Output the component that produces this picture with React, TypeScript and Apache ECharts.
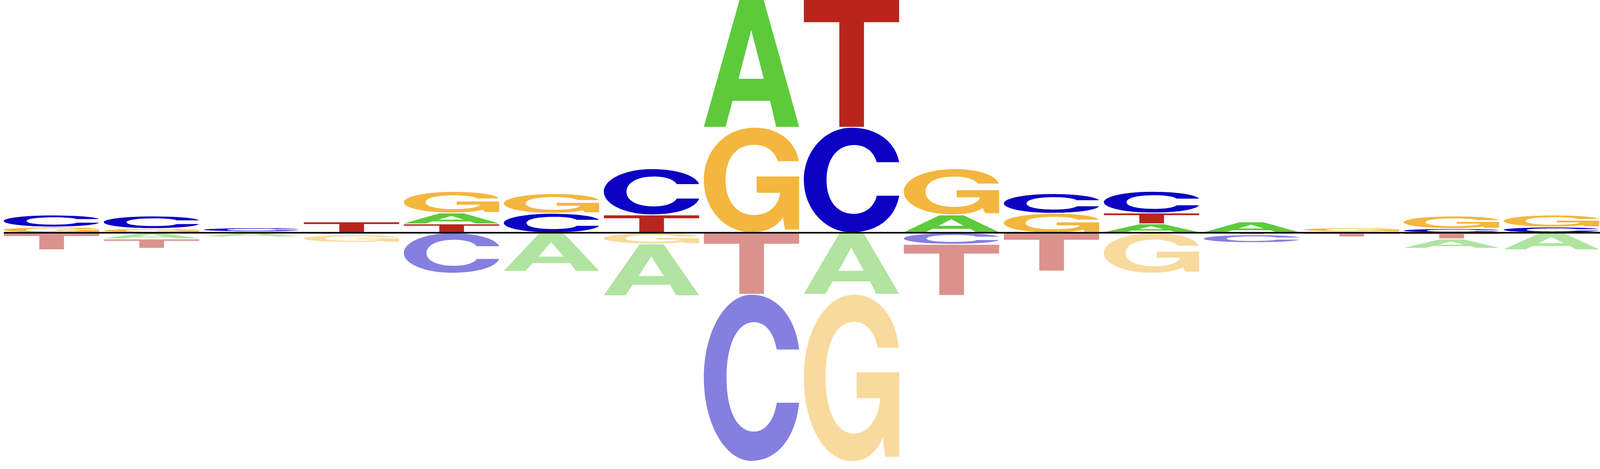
import React, { useEffect, useRef } from 'react';
import * as echarts from 'echarts';

// sequence positions (16 columns)
const positions = ['1', '2', '3', '4', '5', '6', '7', '8', '9', '10', '11', '12', '13', '14', '15', '16'];

// letter heights above the baseline (bits)
const posA = [0, 0, 0, 0, 0.094, 0, 0, 1.099, 0, 0.154, 0, 0.077, 0.094, 0, 0, 0];
const posC = [0.104, 0.108, 0.034, 0, 0, 0.167, 0.397, 0, 0.907, 0, 0.17, 0.186, 0, 0.009, 0.036, 0.049];
const posG = [0.049, 0.036, 0.009, 0, 0.185, 0.17, 0, 0.907, 0, 0.397, 0.167, 0, 0, 0.034, 0.108, 0.104];
const posT = [0, 0, 0, 0.094, 0.076, 0, 0.154, 0, 1.099, 0, 0, 0.093, 0, 0, 0, 0];

// letter heights below the baseline (bits)
const negA = [0, 0.053, 0.035, 0.017, 0, 0.332, 0.446, 0, 0.529, 0, 0, 0, 0, 0, 0.081, 0.147];
const negC = [0, 0, 0, 0, 0.348, 0, 0, 1.437, 0, 0.099, 0, 0, 0.068, 0, 0, 0];
const negG = [0, 0, 0, 0.066, 0, 0, 0.096, 0, 1.439, 0, 0, 0.348, 0, 0, 0, 0];
const negT = [0.147, 0.081, 0, 0, 0, 0, 0, 0.529, 0, 0.44, 0.329, 0, 0.017, 0.036, 0.053, 0];

const LETTERS = ['A', 'C', 'G', 'T'];
const POS: Record<string, number[]> = { A: posA, C: posC, G: posG, T: posT };
const NEG: Record<string, number[]> = { A: negA, C: negC, G: negG, T: negT };

const COLORS_POS: Record<string, string> = { A: '#5DCA3C', C: '#0C00C3', G: '#F3B63F', T: '#B8251D' };
const COLORS_NEG: Record<string, string> = { A: '#B0E4A0', C: '#857FE0', G: '#F8DA9F', T: '#DB928D' };

// glyph outlines in a 100x100 box
const GLYPHS: Record<string, string> = {
    A: 'M37.4 0 L62.8 0 L100 100 L75.9 100 L69.5 79.5 L30.1 79.5 L22.8 100 L0 100 Z M49.7 23.6 L36.4 62.1 L62.9 62.1 Z',
    C: 'M50 0 C76 0 96 13 100 33 L76.5 33 C73 22 64 16.5 52.6 16.5 C35 16.5 23.8 30 23.8 50 C23.8 70 35 82.4 52.6 82.4 C65 82.4 74 75 76.5 65 L100 65 C96 87 76 100 50 100 C22.4 100 0 77.6 0 50 C0 22.4 22.4 0 50 0 Z',
    G: 'M53 0 C77 0 96 12 99.6 31.9 L77.6 31.9 C74 22 65 16.3 53 16.3 C33 16.3 22.8 30 22.8 50 C22.8 70 34 83.5 53 83.5 C68 83.5 79 74 80 62.2 L55.4 62.2 L55.4 46.6 L100 46.6 L100 97.4 L85.2 97.4 L82.9 85.9 C76 95 66 100 50 100 C22 100 0 78 0 50 C0 22 22.6 0 53 0 Z',
    T: 'M0 0 L100 0 L100 17.5 L63.1 17.5 L63.1 100 L37.2 100 L37.2 17.5 L0 17.5 Z',
};

const GLYPH_WIDTH = 0.953;

export default function SequenceLogo() {
    const chartRef = useRef<HTMLDivElement>(null);

    useEffect(() => {
        if (!chartRef.current) return;
        document.body.style.margin = '0';

        const myChart = echarts.init(chartRef.current, null, { renderer: 'svg' });

        // letters of one column, smallest next to the baseline
        const stack = (table: Record<string, number[]>, i: number) =>
            LETTERS.map((l) => ({ l, v: table[l][i] }))
                .filter((d) => d.v > 0)
                .sort((a, b) => a.v - b.v);

        const renderItem = (params: any, api: any) => {
            const i = api.value(0);
            const cx = api.coord([i, 0])[0];
            const w = api.size([1, 0])[0] * GLYPH_WIDTH;
            const children: any[] = [];

            const draw = (table: Record<string, number[]>, sign: number, colors: Record<string, string>) => {
                let acc = 0;
                for (const d of stack(table, i)) {
                    const yA = api.coord([i, sign * acc])[1];
                    const yB = api.coord([i, sign * (acc + d.v)])[1];
                    acc += d.v;
                    const top = Math.min(yA, yB);
                    const h = Math.abs(yB - yA);
                    const pad = Math.min(1.2, h * 0.25);
                    if (h - 2 * pad <= 0) continue;
                    children.push({
                        type: 'path',
                        shape: {
                            pathData: GLYPHS[d.l],
                            x: cx - w / 2,
                            y: top + pad,
                            width: w,
                            height: h - 2 * pad,
                            layout: 'cover',
                        },
                        style: { fill: colors[d.l] },
                    });
                }
            };

            draw(POS, 1, COLORS_POS);
            draw(NEG, -1, COLORS_NEG);
            return { type: 'group', children };
        };

        const option = {
            animation: false,
            grid: { left: 0, right: 0, top: 0, bottom: 0, containLabel: false },
            xAxis: {
                type: 'value',
                min: -0.515,
                max: 15.485,
                show: false,
                splitLine: { show: false },
            },
            yAxis: {
                type: 'value',
                min: -2.032,
                max: 2.0017,
                show: false,
                splitLine: { show: false },
            },
            series: [
                {
                    type: 'custom',
                    renderItem,
                    clip: true,
                    encode: { x: 0 },
                    data: positions.map((_, i) => [i]),
                    z: 2,
                },
                {
                    // baseline
                    type: 'line',
                    data: [
                        [-GLYPH_WIDTH / 2, 0],
                        [positions.length - 0.5, 0],
                    ],
                    showSymbol: false,
                    silent: true,
                    lineStyle: { color: '#000', width: 4 },
                    z: 5,
                },
            ],
        };

        myChart.setOption(option);

        const handleResize = () => myChart.resize();
        window.addEventListener('resize', handleResize);

        return () => {
            window.removeEventListener('resize', handleResize);
            myChart.dispose();
        };
    }, []);

    return <div ref={chartRef} style={{ width: '100vw', height: '100vh' }} />;
}
